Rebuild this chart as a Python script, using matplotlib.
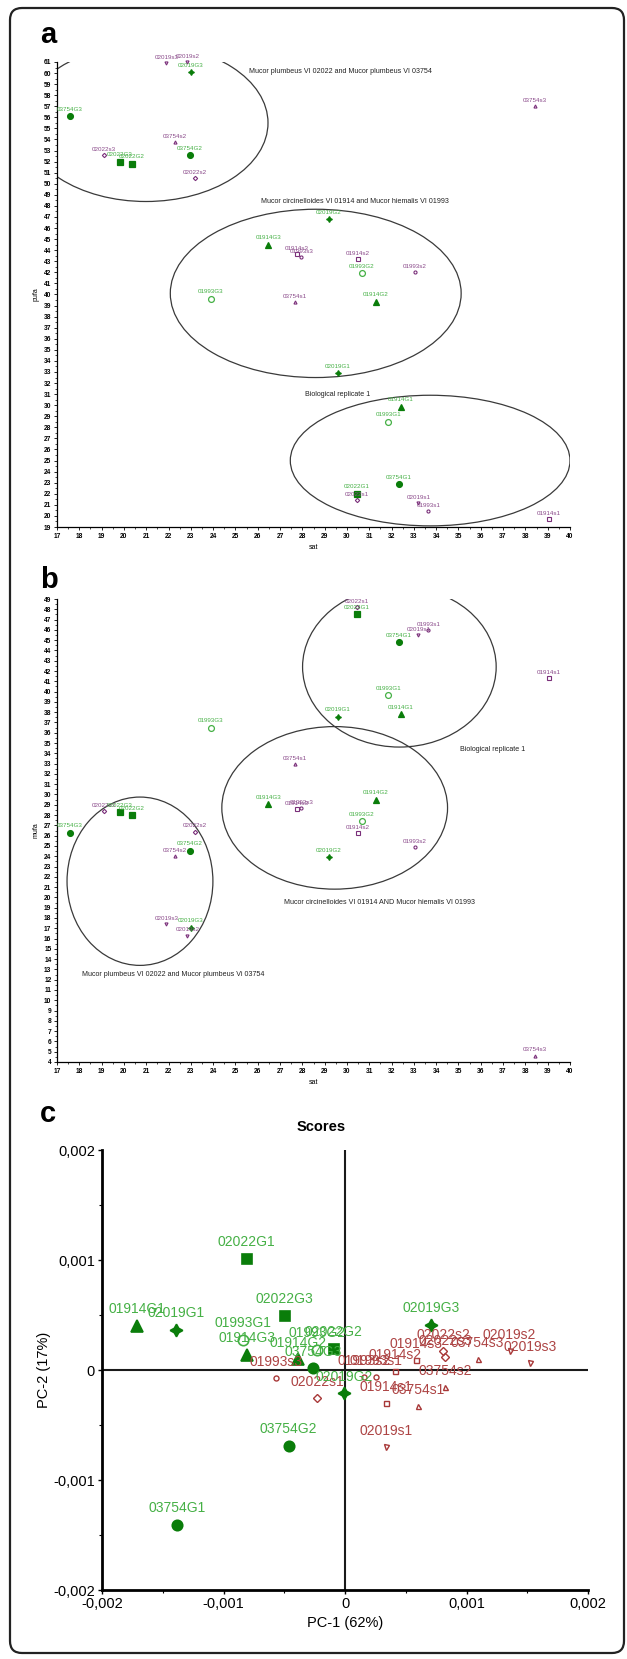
import matplotlib
matplotlib.use('Agg')
import matplotlib.pyplot as plt
from matplotlib.patches import Ellipse, FancyBboxPatch
from matplotlib.ticker import MultipleLocator

plt.rcParams['font.family'] = ['Liberation Sans', 'DejaVu Sans']

# ---------------- data ----------------
g_names = ['01914G1', '01914G2', '01914G3', '01993G1', '01993G2', '01993G3',
           '02019G1', '02019G2', '02019G3', '02022G1', '02022G2', '02022G3',
           '03754G1', '03754G2', '03754G3']
g_sat = [32.42, 31.29, 26.48, 31.85, 30.67, 23.89,
         29.58, 29.19, 23.00, 30.43, 20.37, 19.82,
         32.32, 22.95, 17.58]
g_pufa = [29.86, 39.35, 44.50, 28.50, 41.90, 39.60,
          32.87, 46.80, 60.10, 22.00, 51.80, 52.00,
          22.87, 52.60, 56.10]
g_mufa = [37.80, 29.49, 29.03, 39.65, 27.40, 36.47,
          37.55, 23.90, 17.03, 47.54, 27.96, 28.29,
          44.80, 24.55, 26.27]
g_pc1 = [-0.00171, -0.00039, -0.00081, -0.000843, -0.000231, None,
         -0.001388, -0.00001, 0.000711, -0.00081, -0.000093, -0.000496,
         -0.00138, -0.000463, -0.000264]
g_pc2 = [0.00040, 0.000097, 0.000136, 0.000273, 0.000182, None,
         0.000364, -0.000212, 0.000409, 0.00101, 0.000191, 0.000491,
         -0.00141, -0.000691, 0.000015]

s_names = ['01914s1', '01914s2', '01914s3', '01993s1', '01993s2', '01993s3',
           '02019s1', '02019s2', '02019s3', '02022s1', '02022s2', '02022s3',
           '03754s1', '03754s2', '03754s3']
s_sat = [39.05, 30.48, 27.76, 33.65, 33.03, 27.96,
         33.20, 22.85, 21.90, 30.45, 23.20, 19.10,
         27.67, 22.30, 38.42]
s_pufa = [19.70, 43.20, 43.65, 20.47, 42.00, 43.40,
          21.20, 61.00, 60.90, 21.45, 50.50, 52.60,
          39.35, 53.80, 57.00]
s_mufa = [41.30, 26.27, 28.60, 46.00, 24.88, 28.64,
          45.50, 16.29, 17.42, 48.20, 26.40, 28.35,
          32.93, 24.03, 4.63]
s_pc1 = [0.000337, 0.000413, 0.000588, 0.000255, 0.000159, -0.000569,
         0.000337, 0.001355, 0.001521, -0.000231, 0.00081, 0.000826,
         0.000602, 0.000826, 0.001091]
s_pc2 = [-0.000303, -0.000009, 0.000091, -0.000067, -0.000067, -0.000076,
         -0.000697, 0.000176, 0.000067, -0.000258, 0.000176, 0.000121,
         -0.000324, -0.000152, 0.000097]

# group ellipses: (centre sat, centre y, width, height)
a_ellipses = [(20.99, 55.5, 10.94, 14.2), (28.6, 40.1, 13.04, 15.2), (33.73, 25.0, 12.54, 11.8)]
a_group_text = ['Mucor plumbeus VI 02022 and Mucor plumbeus VI 03754',
                'Mucor circinelloides VI 01914 and Mucor hiemalis VI 01993',
                'Biological replicate 1']
a_group_xy = [(25.6, 60.1, 'left'), (30.38, 48.4, 'center'), (29.56, 30.95, 'center')]
b_ellipses = [(32.35, 42.4, 8.68, 15.58), (29.45, 28.7, 10.12, 15.8), (20.72, 21.57, 6.54, 16.36)]
b_group_text = ['Biological replicate 1',
                'Mucor circinelloides VI 01914 AND Mucor hiemalis VI 01993',
                'Mucor plumbeus VI 02022 and Mucor plumbeus Vi 03754']
b_group_xy = [(35.08, 34.4, 'left'), (27.19, 19.5, 'left'), (18.13, 12.55, 'left')]

c_ticks = [-0.002, -0.001, 0, 0.001, 0.002]
c_ticklabels = ['-0,002', '-0,001', '0', '0,001', '0,002']

# ---------------- styles ----------------
GREEN_M = '#0a7d0a'
GREEN_T = '#45b045'
PURP_M = '#7a2f7a'
PURP_T = '#8a4a8a'
RED_M = '#a83838'
RED_T = '#ad4444'

g_marker = {'01914': ('^', True), '01993': ('o', False), '02019': ((4, 1, 0), True),
            '02022': ('s', True), '03754': ('o', True)}
s_marker = {'01914': 's', '01993': 'o', '02019': 'v', '02022': 'D', '03754': '^'}

W, H = 627, 1659
fig = plt.figure(figsize=(W / 100, H / 100), dpi=100)


def rect(l, t, r, b):
    return [l / W, 1 - b / H, (r - l) / W, (b - t) / H]


# frame
bg = fig.add_axes([0, 0, 1, 1])
bg.set_xlim(0, W)
bg.set_ylim(H, 0)
bg.axis('off')
bg.add_patch(FancyBboxPatch((10, 8), 614, 1645, boxstyle='round,pad=0,rounding_size=12',
                            fill=False, lw=1.6, ec='#222222'))
for letter, x, y in [('a', 40, 43), ('b', 40, 588), ('c', 40, 1122)]:
    bg.text(x, y, letter, fontsize=21, fontweight='bold', ha='left', va='baseline')


def scatter_panel(ax, yvals_g, yvals_s, ylo, yhi, ylabel, ellipses, gtexts, gxy):
    ax.set_xlim(17, 40)
    ax.set_ylim(ylo, yhi)
    for sp in ['top', 'right']:
        ax.spines[sp].set_visible(False)
    for sp in ['left', 'bottom']:
        ax.spines[sp].set_linewidth(0.9)
    xt = list(range(17, 41))
    yt = list(range(ylo, yhi + 1))
    ax.set_xticks(xt)
    ax.set_xticklabels([str(v) for v in xt], fontsize=4.8, fontweight='bold')
    ax.set_yticks(yt)
    ax.set_yticklabels([str(v) for v in yt], fontsize=4.8, fontweight='bold')
    ax.xaxis.set_minor_locator(MultipleLocator(0.5))
    ax.yaxis.set_minor_locator(MultipleLocator(0.5))
    ax.tick_params(which='major', length=2.5, width=0.6, pad=1.5)
    ax.tick_params(which='minor', length=1.2, width=0.5)
    ax.set_xlabel('sat', fontsize=5, labelpad=3)
    ax.set_ylabel(ylabel, fontsize=5, labelpad=3)
    for (cx, cy, w, h) in ellipses:
        ax.add_patch(Ellipse((cx, cy), w, h, fill=False, ec='#3a3a3a', lw=0.9))
    for t, (x, y, ha) in zip(gtexts, gxy):
        ax.text(x, y, t, fontsize=5.1, ha=ha, va='center', color='#222222')
    for n, x, y in zip(s_names, s_sat, yvals_s):
        ax.plot([x], [y], linestyle='none', marker=s_marker[n[:5]], ms=2.2,
                mfc='none', mec=PURP_M, mew=0.8, clip_on=False)
        ax.annotate(n, (x, y), xytext=(0, 2.2), textcoords='offset points',
                    ha='center', va='bottom', fontsize=4.5, color=PURP_T, annotation_clip=False)
    for n, x, y in zip(g_names, g_sat, yvals_g):
        m, filled = g_marker[n[:5]]
        ax.plot([x], [y], linestyle='none', marker=m, ms=4.2,
                mfc=GREEN_M if filled else 'none', mec=GREEN_M if filled else GREEN_T,
                mew=0.9, clip_on=False)
        ax.annotate(n, (x, y), xytext=(0, 3.2), textcoords='offset points',
                    ha='center', va='bottom', fontsize=4.5, color=GREEN_T, annotation_clip=False)


axa = fig.add_axes(rect(57, 62, 570, 527))
scatter_panel(axa, g_pufa, s_pufa, 19, 61, 'pufa', a_ellipses, a_group_text, a_group_xy)

axb = fig.add_axes(rect(57, 599, 570, 1062))
scatter_panel(axb, g_mufa, s_mufa, 4, 49, 'mufa', b_ellipses, b_group_text, b_group_xy)

# ---------------- panel c ----------------
axc = fig.add_axes(rect(102, 1150, 588, 1590))
axc.set_xlim(-0.002, 0.002)
axc.set_ylim(-0.002, 0.002)
for sp in ['top', 'right']:
    axc.spines[sp].set_visible(False)
for sp in ['left', 'bottom']:
    axc.spines[sp].set_linewidth(2)
axc.set_xticks(c_ticks)
axc.set_xticklabels(c_ticklabels, fontsize=10.5)
axc.set_yticks(c_ticks)
axc.set_yticklabels(c_ticklabels, fontsize=10.5)
axc.xaxis.set_minor_locator(MultipleLocator(0.0005))
axc.yaxis.set_minor_locator(MultipleLocator(0.0005))
axc.tick_params(which='major', length=3, width=1, pad=2)
axc.tick_params(which='minor', length=2, width=0.8)
axc.axvline(0, color='#1a1a1a', lw=1.5)
axc.axhline(0, color='#1a1a1a', lw=1.5)
axc.set_xlabel('PC-1 (62%)', fontsize=10.5, labelpad=4)
axc.set_ylabel('PC-2 (17%)', fontsize=10.5, labelpad=2)
fig.text(321 / W, 1 - 1127 / H, 'Scores', fontsize=10.5, fontweight='bold', ha='center', va='center')

for n, x, y in zip(s_names, s_pc1, s_pc2):
    axc.plot([x], [y], linestyle='none', marker=s_marker[n[:5]], ms=3.6,
             mfc='none', mec=RED_M, mew=1.0)
    axc.annotate(n, (x, y), xytext=(0, 11.5), textcoords='offset points',
                 ha='center', va='center', fontsize=10, color=RED_T)
for n, x, y in zip(g_names, g_pc1, g_pc2):
    if x is None:
        continue
    m, filled = g_marker[n[:5]]
    ms = 9 if m == '^' else (9 if m == (4, 1, 0) else 7.5)
    axc.plot([x], [y], linestyle='none', marker=m, ms=ms,
             mfc=GREEN_M if filled else 'none', mec=GREEN_M if filled else GREEN_T, mew=1.2)
    axc.annotate(n, (x, y), xytext=(0, 12), textcoords='offset points',
                 ha='center', va='center', fontsize=10, color=GREEN_T)

fig.savefig('out.png', dpi=100)
